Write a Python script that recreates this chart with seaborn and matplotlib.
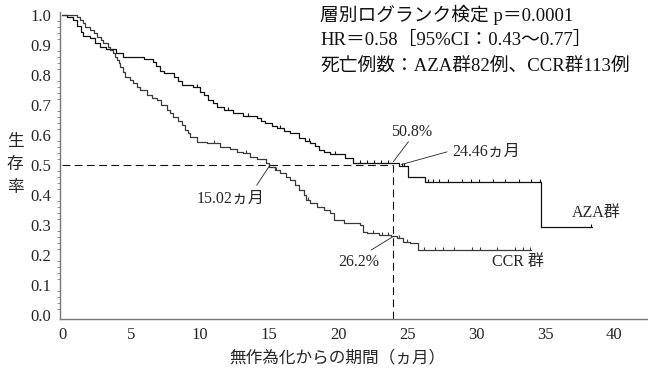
import numpy as np
import pandas as pd
import matplotlib
matplotlib.use("Agg")
import matplotlib.pyplot as plt
import seaborn as sns

# ---------------- data ----------------
aza_t = [0, 0.35, 0.8, 1.1, 1.4, 1.55, 2.0, 2.4, 2.75, 3.2, 3.9, 4.4, 5.9, 6.6, 6.8, 7.1, 7.4,
         8.1, 8.4, 8.7, 9.5, 10.0, 10.3, 10.6, 10.9, 11.2, 11.7, 12.4, 13.1, 14.1, 14.4, 14.7,
         15.2, 15.6, 16.1, 16.5, 17.2, 17.6, 18.0, 18.3, 18.6, 19.0, 19.4, 20.5, 21.1, 24.45,
         25.1, 26.3, 34.7, 38.4]
aza_s = [1.0, 0.994, 0.983, 0.965, 0.945, 0.93, 0.922, 0.906, 0.894, 0.886, 0.872, 0.861,
         0.852, 0.845, 0.83, 0.815, 0.806, 0.792, 0.78, 0.767, 0.759, 0.744, 0.733, 0.717,
         0.706, 0.694, 0.683, 0.675, 0.664, 0.656, 0.648, 0.639, 0.631, 0.622, 0.614, 0.606,
         0.589, 0.581, 0.575, 0.564, 0.55, 0.542, 0.536, 0.522, 0.508, 0.498, 0.461, 0.444,
         0.294, 0.294]
ccr_t = [0, 1.06, 1.3, 1.5, 1.67, 2.0, 2.3, 2.5, 2.8, 3.0, 3.3, 3.5, 3.7, 3.84, 4.0, 4.1, 4.2,
         4.4, 4.57, 4.9, 5.17, 5.4, 5.65, 6.14, 6.5, 6.86, 7.2, 7.6, 7.8, 8.07, 8.4, 8.67, 8.9,
         9.1, 9.28, 9.76, 10.5, 11.45, 12.2, 12.7, 13.1, 13.6, 14.1, 14.8, 15.02, 15.4, 15.8,
         16.2, 16.5, 16.9, 17.2, 17.5, 17.7, 18.0, 18.45, 19.0, 19.4, 19.7, 20.4, 21.6, 21.8,
         22.1, 23.0, 23.8, 24.25, 24.7, 25.2, 25.8, 34.0]
ccr_s = [1.0, 0.994, 0.983, 0.972, 0.961, 0.95, 0.939, 0.928, 0.917, 0.906, 0.894, 0.883,
         0.872, 0.861, 0.85, 0.839, 0.828, 0.811, 0.794, 0.783, 0.772, 0.761, 0.75, 0.733,
         0.725, 0.717, 0.70, 0.683, 0.672, 0.661, 0.647, 0.633, 0.617, 0.606, 0.594, 0.578,
         0.572, 0.561, 0.552, 0.545, 0.539, 0.528, 0.519, 0.506, 0.494, 0.483, 0.472, 0.461,
         0.45, 0.433, 0.417, 0.40, 0.383, 0.375, 0.361, 0.35, 0.339, 0.317, 0.306, 0.30,
         0.278, 0.272, 0.267, 0.262, 0.256, 0.244, 0.239, 0.216, 0.216]
aza_censor = [9.8, 12.0, 13.5, 15.8, 17.9, 19.8, 21.6, 22.1, 22.6, 23.1, 23.6, 24.6, 24.8,
              26.5, 26.9, 27.3, 28.0, 29.0, 29.6, 30.2, 31.2, 32.1, 33.1, 34.0, 34.6, 38.3]
ccr_censor = [11.0, 13.3, 15.5, 17.8, 22.5, 23.2, 23.6, 24.4, 25.0, 26.2, 27.0, 27.6, 28.4,
              29.7, 30.3, 31.5, 32.8, 33.4, 33.9]

x_ticks = [0, 5, 10, 15, 20, 25, 30, 35, 40]
y_ticks = [0.0, 0.1, 0.2, 0.3, 0.4, 0.5, 0.6, 0.7, 0.8, 0.9, 1.0]

median_aza, median_ccr, landmark = 24.46, 15.02, 24.0
surv_aza_24, surv_ccr_24 = 0.508, 0.262

stats_lines = ["層別ログランク検定 p＝0.0001",
               "HR＝0.58［95%CI：0.43〜0.77］",
               "死亡例数：AZA群82例、CCR群113例"]

# ---------------- style ----------------
sns.set_style("white")
FAM = ["Liberation Serif", "Noto Sans CJK JP", "DejaVu Sans"]
plt.rcParams["font.family"] = FAM

fig = plt.figure(figsize=(6.48, 3.71), dpi=100)
ax = fig.add_axes([0.092, 0.140, 0.908, 0.8275])

df = pd.concat([
    pd.DataFrame({"t": aza_t, "s": aza_s, "g": "AZA"}),
    pd.DataFrame({"t": ccr_t, "s": ccr_s, "g": "CCR"}),
])
sns.lineplot(data=df, x="t", y="s", hue="g", palette={"AZA": "#111111", "CCR": "#3a3a3a"},
             estimator=None, sort=False, drawstyle="steps-post", lw=0.9, legend=False, ax=ax)


def step_val(ts, ss, x):
    i = np.searchsorted(ts, x, side="right") - 1
    return ss[i]


tick_marker = [(0, 0), (0, 1)]
for ts, ss, cs, col in [(aza_t, aza_s, aza_censor, "#111111"), (ccr_t, ccr_s, ccr_censor, "#3a3a3a")]:
    cy = [step_val(ts, ss, c) for c in cs]
    ax.plot(cs, cy, ls="none", marker=tick_marker, ms=5, mec=col, mew=0.8)

# reference dashed lines
ax.plot([0, landmark], [0.5, 0.5], color="#111111", lw=0.8, dashes=(7, 4))
ax.plot([landmark, landmark], [-0.013, 0.5], color="#111111", lw=0.8, dashes=(7, 4))

ax.set_xlim(-0.18, 42.46)
ax.set_ylim(-0.0133, 1.01)
ax.set_xticks(x_ticks)
ax.set_yticks(y_ticks)
ax.set_xticklabels([str(v) for v in x_ticks], fontsize=12)
ax.set_yticklabels([f"{v:.1f}" for v in y_ticks], fontsize=12)
ax.set_yticks(np.arange(0, 1.0001, 0.02), minor=True)
ax.tick_params(axis="y", which="major", direction="out", length=3, width=0.8, color="#555555", pad=3)
ax.tick_params(axis="y", which="minor", direction="out", length=2, width=0.6, color="#777777", left=True)
ax.tick_params(axis="x", which="major", direction="in", length=3, width=0.8, color="#bbbbbb", pad=6)
for s in ["top", "right"]:
    ax.spines[s].set_visible(False)
for s in ["left", "bottom"]:
    ax.spines[s].set_color("#777777")
    ax.spines[s].set_linewidth(1.0)
ax.set_xlabel("")
ax.set_ylabel("")

# stats text
for i, line in enumerate(stats_lines):
    ax.text(18.7, 1.0 - i * 0.086, line, fontsize=13.5, va="center", ha="left", color="#111111")

lk = dict(color="#222222", lw=0.6)
fs = 11.5
ax.text(25.3, 0.61, f"{surv_aza_24*100:.1f}%", fontsize=fs, ha="center", va="center")
ax.plot([24.0, 25.1], [0.511, 0.578], **lk)
ax.text(28.3, 0.543, f"{median_aza:.2f}ヵ月", fontsize=fs, ha="left", va="center")
ax.plot([24.6, 27.9], [0.502, 0.544], **lk)
ax.text(12.2, 0.387, f"{median_ccr:.2f}ヵ月", fontsize=fs, ha="center", va="center")
ax.plot([15.07, 14.1], [0.5, 0.433], **lk)
ax.text(21.5, 0.177, f"{surv_ccr_24*100:.1f}%", fontsize=fs, ha="center", va="center")
ax.plot([24.0, 22.4], [0.262, 0.217], **lk)
ax.text(33.0, 0.177, "CCR 群", fontsize=fs, ha="center", va="center")
ax.text(38.7, 0.34, "AZA群", fontsize=fs, ha="center", va="center")

# axis labels
fig.text(15 / 648, 1 - 165 / 371, "生\n存\n率", fontsize=12, ha="center", va="center",
         linespacing=1.6)
fig.text(337 / 648, 1 - 358 / 371, "無作為化からの期間（ヵ月）", fontsize=12, ha="center", va="center")

fig.savefig("out.png", dpi=100)
